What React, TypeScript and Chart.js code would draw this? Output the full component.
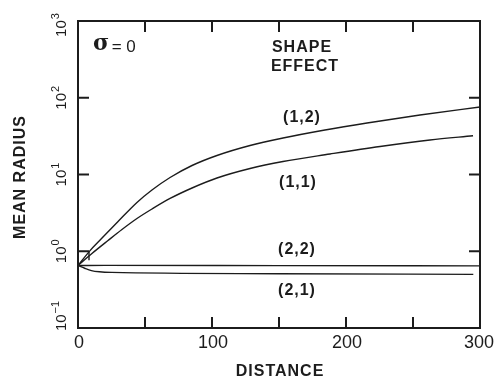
import React, { useEffect, useRef } from "react";
import { Chart, registerables } from "chart.js";

Chart.register(...registerables);

// ---- data ----
const distance12 = [0, 9, 17.2, 29.9, 44, 55.2, 68.7, 85.1, 103.7, 128.4, 153, 184.3, 215.7, 255.2, 300];
const radius12 = [0.652, 1.02, 1.44, 2.44, 4.32, 6.28, 9.14, 13.1, 17.7, 23.9, 29.9, 38.0, 46.9, 59.6, 75.8];

const distance11 = [0, 10.4, 22.4, 32.8, 44, 55.2, 68.7, 85.1, 103.7, 128.4, 153, 188.1, 225.4, 262.7, 294.8];
const radius11 = [0.652, 0.935, 1.38, 1.92, 2.67, 3.55, 4.87, 6.67, 9.0, 11.97, 14.76, 18.5, 23.2, 28.2, 32];

const distance22 = [0, 20, 150, 300];
const radius22 = [0.652, 0.655, 0.65, 0.645];

const distance21 = [0, 5, 10, 16, 25, 150, 295];
const radius21 = [0.652, 0.6, 0.56, 0.54, 0.53, 0.51, 0.5];

const curveLabels = ["(1,2)", "(1,1)", "(2,2)", "(2,1)"];
const xTickLabels = [0, 100, 200, 300];
const xTickMarks = [50, 100, 150, 200, 250];
const yExponents = [-1, 0, 1, 2, 3];
const yTickMarks = [1, 10, 100];
const xTitle = "DISTANCE";
const yTitle = "MEAN RADIUS";
const titleLines = ["SHAPE", "EFFECT"];
const sigmaText = "σ = 0";

const toPoints = (xs: number[], ys: number[]) => xs.map((x, i) => ({ x, y: ys[i] }));

const INK = "#1c1c1c";

const decorPlugin = {
  id: "decor",
  afterDraw(chart: any) {
    const ctx = chart.ctx as CanvasRenderingContext2D;
    const { left, right, top, bottom } = chart.chartArea;
    const xs = chart.scales.x;
    const ys = chart.scales.y;
    ctx.save();
    ctx.strokeStyle = INK;
    ctx.fillStyle = INK;
    // frame
    ctx.lineWidth = 2;
    ctx.strokeRect(left, top, right - left, bottom - top);
    // inward ticks
    const tl = 11;
    ctx.beginPath();
    xTickMarks.forEach((v) => {
      const px = xs.getPixelForValue(v);
      ctx.moveTo(px, bottom);
      ctx.lineTo(px, bottom - tl);
      ctx.moveTo(px, top);
      ctx.lineTo(px, top + tl);
    });
    yTickMarks.forEach((v) => {
      const py = ys.getPixelForValue(v);
      ctx.moveTo(left, py);
      ctx.lineTo(left + tl, py);
      ctx.moveTo(right, py);
      ctx.lineTo(right - tl, py);
    });
    ctx.stroke();
    // small notch below the 10^0 tick on the left axis
    ctx.lineWidth = 1.4;
    ctx.beginPath();
    const p1 = ys.getPixelForValue(1);
    ctx.moveTo(left + tl, p1);
    ctx.lineTo(left + tl, p1 + 9);
    ctx.stroke();

    // x tick labels
    ctx.font = "18px 'Liberation Sans', Arial, sans-serif";
    ctx.textAlign = "center";
    ctx.textBaseline = "middle";
    const W = chart.width;
    xTickLabels.forEach((v) => {
      const s = String(v);
      const w = ctx.measureText(s).width;
      let px = xs.getPixelForValue(v);
      px = Math.min(px, W - w / 2 - 1);
      ctx.fillText(s, px + 1, bottom + 15);
    });

    // y tick labels: rotated 10^n
    yExponents.forEach((e) => {
      let py = ys.getPixelForValue(Math.pow(10, e));
      if (e === -1) py -= 12;
      if (e === 3) py += 4;
      const base = "10";
      const sup = e < 0 ? "−" + Math.abs(e) : String(e);
      ctx.save();
      ctx.translate(62, py);
      ctx.rotate(-Math.PI / 2);
      ctx.font = "15px 'Liberation Sans', Arial, sans-serif";
      const wb = ctx.measureText(base).width;
      ctx.font = "11px 'Liberation Sans', Arial, sans-serif";
      const wsup = ctx.measureText(sup).width;
      const total = wb + wsup + 1;
      ctx.textAlign = "left";
      ctx.textBaseline = "middle";
      ctx.font = "15px 'Liberation Sans', Arial, sans-serif";
      ctx.fillText(base, -total / 2, 0);
      ctx.font = "11px 'Liberation Sans', Arial, sans-serif";
      ctx.fillText(sup, -total / 2 + wb + 1, -6);
      ctx.restore();
    });

    // axis titles
    ctx.font = "bold 16px 'Liberation Sans', Arial, sans-serif";
    (ctx as any).letterSpacing = "1px";
    ctx.textAlign = "center";
    ctx.textBaseline = "middle";
    ctx.fillText(xTitle, 280, bottom + 44);
    ctx.save();
    ctx.translate(21, 177);
    ctx.rotate(-Math.PI / 2);
    ctx.fillText(yTitle, 0, 0);
    ctx.restore();

    // annotations
    ctx.fillText(titleLines[0], 302, 48);
    ctx.fillText(titleLines[1], 305, 67);
    const labelPos = [
      [302, 118],
      [298, 183],
      [297, 250],
      [297, 291],
    ];
    curveLabels.forEach((t, i) => ctx.fillText(t, labelPos[i][0], labelPos[i][1]));

    (ctx as any).letterSpacing = "0px";
    ctx.textAlign = "left";
    ctx.font = "bold 22px 'DejaVu Serif', serif";
    ctx.fillText(sigmaText.charAt(0), 93, 44);
    ctx.font = "17px 'Liberation Sans', Arial, sans-serif";
    ctx.fillText(sigmaText.slice(1), 107, 47);
    ctx.restore();
  },
};

export default function App() {
  const ref = useRef<HTMLCanvasElement>(null);
  useEffect(() => {
    if (!ref.current) return;
    const ds = (xs: number[], ys: number[]) => ({
      data: toPoints(xs, ys),
      borderColor: INK,
      borderWidth: 1.4,
      pointRadius: 0,
      fill: false,
      cubicInterpolationMode: "monotone" as const,
    });
    const chart = new Chart(ref.current, {
      type: "line",
      data: {
        datasets: [
          { label: curveLabels[0], ...ds(distance12, radius12) },
          { label: curveLabels[1], ...ds(distance11, radius11) },
          { label: curveLabels[2], ...ds(distance22, radius22) },
          { label: curveLabels[3], ...ds(distance21, radius21) },
        ],
      },
      options: {
        animation: false,
        responsive: false,
        events: [],
        layout: { padding: { left: 78, top: 21, right: 14, bottom: 50 } },
        plugins: { legend: { display: false }, tooltip: { enabled: false } },
        scales: {
          x: { type: "linear", min: 0, max: 300, display: false },
          y: { type: "logarithmic", min: 0.1, max: 1000, display: false },
        },
      },
      plugins: [decorPlugin],
    });
    return () => chart.destroy();
  }, []);
  return (
    <div style={{ position: "fixed", left: 0, top: 0, width: 494, height: 378, background: "#fff" }}>
      <canvas ref={ref} width={494} height={378} style={{ display: "block" }} />
    </div>
  );
}
